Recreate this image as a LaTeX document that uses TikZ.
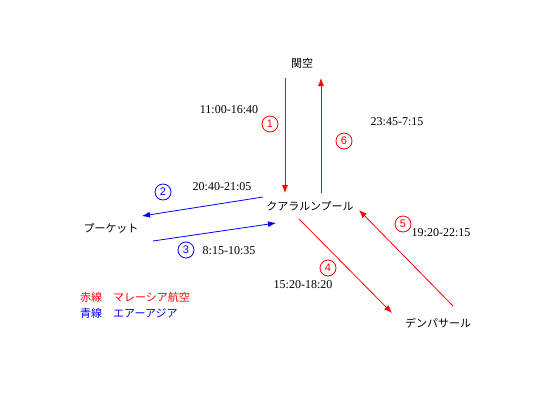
\documentclass[tikz,border=0pt]{standalone}
\usepackage{fontspec}
\setmainfont{Liberation Serif}
\newfontfamily\cjk{Noto Sans CJK JP}
\newfontfamily\numfont{Liberation Sans}
\usetikzlibrary{arrows.meta}

\begin{document}
\begin{tikzpicture}[x=1pt,y=-1pt,
  city/.style={font=\cjk\fontsize{11}{13}\selectfont},
  time/.style={font=\fontsize{12}{14}\selectfont},
  num/.style={circle,draw,line width=0.8pt,inner sep=0pt,minimum size=16pt,font=\numfont\fontsize{11}{12}\selectfont},
  route/.style={line width=0.8pt,-{Latex[length=8pt,width=6pt]}}]
  \useasboundingbox (0,0) rectangle (550,400);

  % airports
  \node[city] (kix) at (302,63) {関空};
  \node[city] (kul) at (310,206) {クアラルンプール};
  \node[city] (hkt) at (111,228) {プーケット};
  \node[city] (dps) at (438,323) {デンパサール};

  % route ends
  \coordinate (kixout) at (285,78);  \coordinate (kulin) at (285,193);
  \coordinate (kulout) at (321,193); \coordinate (kixin) at (321,78);
  \coordinate (kulw) at (263,197);   \coordinate (hktin) at (142,216);
  \coordinate (hktout) at (153,241); \coordinate (kulwin) at (276,223);
  \coordinate (kulse) at (299,219);  \coordinate (dpsin) at (392,313);
  \coordinate (dpsout) at (453,306); \coordinate (kulsein) at (359,210);

  \draw[route,red] (kixout) -- (kulin);
  \draw[route,blue] (kulw) -- (hktin);
  \draw[route,blue] (hktout) -- (kulwin);
  \draw[route,red] (kulse) -- (dpsin);
  \draw[route,red] (dpsout) -- (kulsein);
  \draw[route,red] (kulout) -- (kixin);

  % numbers and times
  \node[num,red] (n1) at (270,124) {1};
  \node[time] (t1) at (229,110) {11:00-16:40};
  \node[num,blue] (n2) at (163,192) {2};
  \node[time] (t2) at (222,187) {20:40-21:05};
  \node[num,blue] (n3) at (186,250) {3};
  \node[time] (t3) at (229,251) {8:15-10:35};
  \node[num,red] (n4) at (328,268) {4};
  \node[time] (t4) at (303,285) {15:20-18:20};
  \node[num,red] (n5) at (403,224) {5};
  \node[time] (t5) at (441,233) {19:20-22:15};
  \node[num,red] (n6) at (344,141) {6};
  \node[time] (t6) at (397,122) {23:45-7:15};

  % legend
  \node[city,red,anchor=west,inner sep=0pt] (legred) at (80,297) {赤線　マレーシア航空};
  \node[city,blue,anchor=west,inner sep=0pt] (legblue) at (80,313) {青線　エアーアジア};
\end{tikzpicture}
\end{document}
